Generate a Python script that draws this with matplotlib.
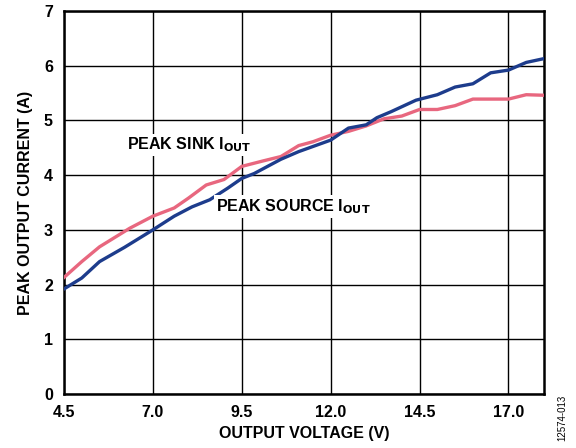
import numpy as np
import matplotlib.pyplot as plt

plt.rcParams['font.family'] = ['Liberation Sans', 'DejaVu Sans']
plt.rcParams['font.weight'] = 'bold'

# peak source current (blue)
src_v = [4.5, 5.0, 5.5, 6.2, 7.0, 7.6, 8.1, 8.6, 9.1, 9.5, 9.85, 10.6, 11.1, 12.0,
         12.5, 13.0, 13.3, 13.7, 14.4, 15.0, 15.5, 16.0, 16.5, 17.0, 17.5, 18.0]
src_i = [1.92, 2.12, 2.42, 2.68, 3.0, 3.25, 3.42, 3.55, 3.76, 3.94, 4.03, 4.29, 4.43, 4.64,
         4.86, 4.92, 5.05, 5.16, 5.37, 5.47, 5.61, 5.67, 5.87, 5.92, 6.06, 6.13]

# peak sink current (pink)
snk_v = [4.5, 5.0, 5.5, 6.35, 7.0, 7.6, 8.0, 8.5, 9.0, 9.5, 10.1, 10.6, 11.1, 11.5,
         12.0, 12.5, 13.0, 13.5, 14.0, 14.5, 15.0, 15.5, 16.0, 16.5, 17.0, 17.5, 18.0]
snk_i = [2.13, 2.42, 2.69, 3.03, 3.25, 3.40, 3.58, 3.82, 3.92, 4.16, 4.26, 4.34, 4.54, 4.61,
         4.73, 4.80, 4.90, 5.03, 5.08, 5.20, 5.20, 5.27, 5.39, 5.39, 5.39, 5.47, 5.46]

x_ticks = [4.5, 7.0, 9.5, 12.0, 14.5, 17.0]
x_labels = ["4.5", "7.0", "9.5", "12.0", "14.5", "17.0"]

fig = plt.figure(figsize=(5.76, 4.48), dpi=100)
ax = fig.add_axes([64 / 576, 54 / 448, 480 / 576, 383 / 448])

ax.plot(snk_v, snk_i, color="#e8677f", linewidth=2.4, zorder=3)
ax.plot(src_v, src_i, color="#1d3c8c", linewidth=2.4, zorder=4)

ax.set_xlim(4.5, 18.0)
ax.set_ylim(0, 7)
ax.set_xticks(x_ticks)
ax.set_xticklabels(x_labels)
ax.set_yticks(range(0, 8))
ax.grid(True, color="black", linewidth=1.0)
ax.set_axisbelow(True)
ax.tick_params(length=0, labelsize=11.5, pad=8)
for s in ax.spines.values():
    s.set_linewidth(1.8)

ax.set_xlabel("OUTPUT VOLTAGE (V)", fontsize=11.5, fontweight="bold", labelpad=4)
ax.set_ylabel("PEAK OUTPUT CURRENT (A)", fontsize=11.5, fontweight="bold", labelpad=8)

box = dict(facecolor="white", edgecolor="none", pad=1.5)
ax.text(6.27, 4.55, r"PEAK SINK I$_{\mathbf{OUT}}$", fontsize=11.5, fontweight="bold",
        va="center", ha="left", bbox=box, zorder=5)
ax.text(8.77, 3.42, r"PEAK SOURCE I$_{\mathbf{OUT}}$", fontsize=11.5, fontweight="bold",
        va="center", ha="left", bbox=box, zorder=5)

fig.text(562 / 576, 1 - 418 / 448, "12574-013", rotation=90, fontsize=7, fontweight="normal",
         ha="center", va="center")

fig.savefig("out.png", dpi=100)
